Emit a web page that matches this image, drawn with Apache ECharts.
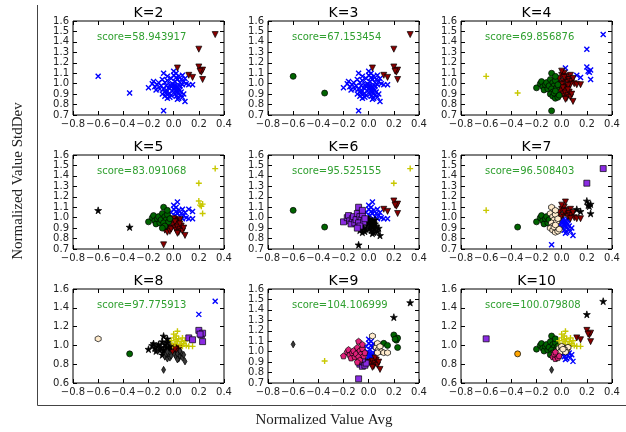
<!DOCTYPE html>
<html>
<head>
<meta charset="utf-8">
<script src="https://cdn.jsdelivr.net/npm/echarts@6/dist/echarts.min.js"></script>
<style>
  html, body { margin: 0; background: #fff; }
  #main { width: 626px; height: 432px; }
</style>
</head>
<body>
<div id="main"></div>
<script>
// groups of points (avg, stddev) that move together between clusterings
const g0 = [[-0.60, 1.07]];
const g1 = [[-0.35, 0.91]];
const g2 = [[-0.08, 0.74]];
const g3 = [[0.33, 1.47], [0.20, 1.33]];
const g4 = [[0.20, 1.16], [0.22, 1.11], [0.23, 1.13], [0.21, 1.12], [0.23, 1.04]];
const g5 = [[0.12, 1.08], [0.15, 1.06]];
const g6 = [[0.03, 1.15]];
const g7 = [[-0.20, 0.96], [-0.17, 1.00], [-0.16, 1.02], [-0.15, 0.97], [-0.14, 0.94],
  [-0.13, 0.99], [-0.12, 1.01], [-0.11, 0.95], [-0.10, 0.98]];
const g8 = [[-0.08, 1.10], [-0.09, 1.04], [-0.07, 1.01], [-0.06, 0.98], [-0.08, 0.95],
  [-0.05, 1.03], [-0.04, 0.96], [-0.07, 0.92], [-0.09, 0.90], [-0.05, 1.07], [-0.03, 0.99]];
const g9 = [[-0.02, 1.05], [0.00, 1.08], [0.01, 1.02], [0.02, 1.10], [0.03, 1.04],
  [0.04, 1.07], [0.05, 1.01], [-0.01, 1.00], [0.02, 1.06], [0.00, 1.12]];
const g10 = [[0.06, 1.04], [0.07, 1.08], [0.08, 1.02], [0.09, 1.05], [0.10, 1.00],
  [0.12, 0.99], [0.15, 0.99], [0.07, 0.99]];
const g11 = [[-0.02, 0.97], [0.00, 0.95], [0.01, 0.98], [0.02, 0.94], [0.03, 0.97],
  [0.04, 0.95], [0.05, 0.98], [0.00, 0.99], [0.02, 0.96], [-0.01, 0.93], [0.03, 0.93], [0.01, 0.96]];
const g12 = [[-0.07, 0.88], [-0.05, 0.86], [-0.04, 0.90], [-0.06, 0.91], [-0.03, 0.87],
  [-0.02, 0.89], [-0.05, 0.93]];
const g13 = [[0.01, 0.90], [0.02, 0.88], [0.03, 0.91], [0.04, 0.86], [0.05, 0.89],
  [0.06, 0.92], [0.07, 0.87], [0.08, 0.90], [0.09, 0.83], [0.05, 0.94], [0.03, 0.85]];
const groups = [g0, g1, g2, g3, g4, g5, g6, g7, g8, g9, g10, g11, g12, g13];

const kValues = [2, 3, 4, 5, 6, 7, 8, 9, 10];
const scores = ['58.943917', '67.153454', '69.856876', '83.091068', '95.525155',
  '96.508403', '97.775913', '104.106999', '100.079808'];

// cluster id of each group, one row per K
const groupCluster = [
  [0, 0, 0, 1, 1, 1, 1, 0, 0, 0, 0, 0, 0, 0],
  [2, 2, 0, 1, 1, 1, 1, 0, 0, 0, 0, 0, 0, 0],
  [3, 3, 2, 0, 0, 0, 0, 2, 2, 1, 1, 1, 2, 1],
  [4, 4, 1, 3, 3, 0, 0, 2, 2, 0, 0, 1, 1, 1],
  [2, 2, 4, 3, 1, 1, 0, 5, 5, 0, 0, 4, 4, 4],
  [3, 2, 0, 5, 4, 4, 1, 2, 6, 1, 1, 0, 6, 0],
  [6, 2, 7, 0, 5, 5, 3, 4, 4, 3, 3, 1, 7, 7],
  [7, 3, 5, 4, 2, 2, 6, 8, 8, 0, 6, 0, 5, 1],
  [5, 9, 7, 4, 1, 1, 3, 2, 2, 3, 3, 6, 8, 0]
];

// y range per panel
const yMins = [0.7, 0.7, 0.7, 0.7, 0.7, 0.7, 0.6, 0.7, 0.6];
const yTicks = [0.1, 0.1, 0.1, 0.1, 0.1, 0.1, 0.2, 0.1, 0.2];

// marker style of each cluster
const STAR = 'path://M50,0L61,35L98,35L68,57L79,91L50,70L21,91L32,57L2,35L39,35Z';
const HEX = 'path://M50,0L93,25L93,75L50,100L7,75L7,25Z';
const PENT = 'path://M50,0L98,35L79,91L21,91L2,35Z';
const CROSS = 'path://M0,0L10,10M10,0L0,10';
const PLUS = 'path://M5,0L5,10M0,5L10,5';
const clusterStyle = [
  { symbol: CROSS, size: 5, color: '#0000ff', line: true },
  { symbol: 'triangle', size: 6, color: '#8b0000', rotate: 180 },
  { symbol: 'circle', size: 6, color: '#006400' },
  { symbol: PLUS, size: 6, color: '#c8c800', line: true },
  { symbol: STAR, size: 7, color: '#000000' },
  { symbol: 'rect', size: 6, color: '#8a2be2' },
  { symbol: HEX, size: 6, color: '#ffebcd' },
  { symbol: 'diamond', size: [4, 7], color: '#3a3a3a' },
  { symbol: PENT, size: 6, color: '#e0207a' },
  { symbol: 'circle', size: 6, color: '#ffa500' }
];

const colLeft = [73, 268, 461];
const rowTop = [21, 155, 289];
const plotW = 151;
const plotH = 94;

const fmt = v => v.toFixed(1).replace('-', '\u2212');

const grids = [], xAxes = [], yAxes = [], series = [], graphics = [];
const topAxes = [], rightAxes = [];
kValues.forEach((k, p) => {
  const left = colLeft[p % 3];
  const top = rowTop[Math.floor(p / 3)];
  grids.push({ left: left, top: top, width: plotW, height: plotH, show: true, borderColor: '#000', borderWidth: 1 });
  const tick = { show: true, inside: true, length: 4, lineStyle: { color: '#000' } };
  const label = { fontSize: 10, color: '#222', margin: 4, fontFamily: 'DejaVu Sans', formatter: fmt };
  xAxes.push({
    gridIndex: p, type: 'value', min: -0.8, max: 0.4, interval: 0.2,
    axisLine: { show: false, onZero: false }, splitLine: { show: false }, axisTick: tick, axisLabel: label
  });
  yAxes.push({
    gridIndex: p, type: 'value', min: yMins[p], max: 1.6, interval: yTicks[p],
    axisLine: { show: false, onZero: false }, splitLine: { show: false }, axisTick: tick, axisLabel: label
  });
  // matching ticks on top and right sides
  topAxes.push({
    gridIndex: p, type: 'value', position: 'top', min: -0.8, max: 0.4, interval: 0.2,
    axisLine: { show: false, onZero: false }, splitLine: { show: false }, axisTick: tick, axisLabel: { show: false }
  });
  rightAxes.push({
    gridIndex: p, type: 'value', position: 'right', min: yMins[p], max: 1.6, interval: yTicks[p],
    axisLine: { show: false, onZero: false }, splitLine: { show: false }, axisTick: tick, axisLabel: { show: false }
  });

  const byCluster = {};
  groups.forEach((g, gi) => {
    const c = groupCluster[p][gi];
    (byCluster[c] = byCluster[c] || []).push(...g);
  });
  Object.keys(byCluster).map(Number).sort((a, b) => a - b).forEach(c => {
    const st = clusterStyle[c];
    series.push({
      type: 'scatter', xAxisIndex: p, yAxisIndex: p,
      data: byCluster[c],
      symbol: st.symbol, symbolSize: st.size, symbolRotate: st.rotate || 0,
      itemStyle: st.line
        ? { color: 'none', borderColor: st.color, borderWidth: 1.4, opacity: 1 }
        : { color: st.color, borderColor: '#000', borderWidth: 0.7, opacity: 1 },
      emphasis: { disabled: true },
      z: 2 + c
    });
  });

  graphics.push({
    type: 'text', x: left + plotW / 2, y: top - 8,
    style: { text: 'K=' + k, fill: '#000', font: '14px "DejaVu Sans"', align: 'center', verticalAlign: 'middle' }
  });
  graphics.push({
    type: 'text', x: left + 24, y: top + 16,
    style: { text: 'score=' + scores[p], fill: '#30a030', font: '10px "DejaVu Sans"', align: 'left', verticalAlign: 'middle' }
  });
});

// outer frame and axis names
graphics.push({ type: 'line', shape: { x1: 37.5, y1: 5, x2: 37.5, y2: 405.5 }, style: { stroke: '#444', lineWidth: 1 } });
graphics.push({ type: 'line', shape: { x1: 37.5, y1: 405.5, x2: 626, y2: 405.5 }, style: { stroke: '#444', lineWidth: 1 } });
graphics.push({
  type: 'text', x: 18, y: 181, rotation: Math.PI / 2,
  style: { text: 'Normalized Value StdDev', fill: '#222', font: '15px "Liberation Serif"', align: 'center', verticalAlign: 'middle' }
});
graphics.push({
  type: 'text', x: 324, y: 420,
  style: { text: 'Normalized Value Avg', fill: '#222', font: '15px "Liberation Serif"', align: 'center', verticalAlign: 'middle' }
});

const myChart = echarts.init(document.getElementById('main'), null, { renderer: 'canvas' });
myChart.setOption({
  animation: false,
  grid: grids,
  xAxis: xAxes.concat(topAxes),
  yAxis: yAxes.concat(rightAxes),
  series: series,
  graphic: graphics
});
</script>
</body>
</html>
